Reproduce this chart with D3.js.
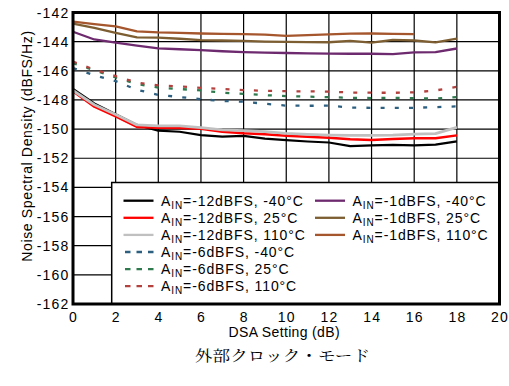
<!DOCTYPE html>
<html><head><meta charset="utf-8">
<script src="https://cdn.jsdelivr.net/npm/d3@7"></script>
<style>body{margin:0;background:#fff}svg{display:block}text{font-family:"Liberation Sans",Arial,sans-serif}</style>
</head><body><svg id="c" width="509" height="386"></svg>
<script>
const dsa = [0,1,2,3,4,5,6,7,8,9,10,11,12,13,14,15,16,17,18];
const xTicks = [0,2,4,6,8,10,12,14,16,18,20];
const yTicks = [-142,-144,-146,-148,-150,-152,-154,-156,-158,-160,-162];

const m12_m40 = [-147.25,-148.24,-148.98,-149.71,-150.11,-150.18,-150.41,-150.52,-150.47,-150.65,-150.75,-150.85,-150.92,-151.17,-151.12,-151.08,-151.12,-151.07,-150.84];
const m12_25  = [-147.40,-148.46,-149.12,-149.85,-149.90,-149.93,-149.97,-150.18,-150.29,-150.36,-150.46,-150.53,-150.60,-150.70,-150.75,-150.68,-150.63,-150.62,-150.43];
const m12_110 = [-147.35,-148.33,-149.00,-149.71,-149.78,-149.78,-149.90,-150.06,-150.11,-150.18,-150.29,-150.36,-150.41,-150.43,-150.43,-150.41,-150.34,-150.31,-149.88];
const m6_m40  = [-145.82,-146.31,-146.71,-147.30,-147.65,-147.80,-147.95,-148.07,-148.12,-148.26,-148.39,-148.40,-148.39,-148.52,-148.54,-148.54,-148.54,-148.49,-148.44];
const m6_25   = [-145.47,-145.96,-146.46,-146.91,-147.15,-147.25,-147.35,-147.50,-147.58,-147.67,-147.74,-147.77,-147.81,-147.85,-147.87,-147.85,-147.88,-147.91,-147.80];
const m6_110  = [-145.37,-145.92,-146.37,-146.81,-147.00,-147.07,-147.17,-147.25,-147.32,-147.37,-147.40,-147.41,-147.43,-147.49,-147.50,-147.51,-147.48,-147.35,-147.10];
const m1_m40  = [-143.32,-143.85,-144.07,-144.28,-144.46,-144.52,-144.58,-144.66,-144.72,-144.75,-144.78,-144.80,-144.82,-144.83,-144.83,-144.86,-144.73,-144.72,-144.47];
const m1_25   = [-142.77,-143.05,-143.40,-143.70,-143.72,-143.80,-143.90,-143.92,-143.95,-144.00,-144.02,-144.03,-144.04,-143.95,-144.06,-143.88,-143.92,-144.05,-143.80];
const m1_110  = [-142.63,-142.80,-142.95,-143.30,-143.37,-143.40,-143.44,-143.47,-143.49,-143.52,-143.60,-143.55,-143.50,-143.45,-143.44,-143.46,-143.49];

const series = [
  {ain:"-12dBFS", t:"-40°C", v:m12_m40, c:"#000000", w:2.2, d:null, col:0},
  {ain:"-12dBFS", t:"25°C", v:m12_25, c:"#ff0000", w:2.5, d:null, col:0},
  {ain:"-12dBFS", t:"110°C", v:m12_110, c:"#c0c0c0", w:2.8, d:null, col:0},
  {ain:"-6dBFS", t:"-40°C", v:m6_m40, c:"#2d6080", w:2.3, d:"4,10.2", col:0},
  {ain:"-6dBFS", t:"25°C", v:m6_25, c:"#2e7a4e", w:2.3, d:"4,10.2", col:0},
  {ain:"-6dBFS", t:"110°C", v:m6_110, c:"#b3423f", w:2.3, d:"4,10.2", col:0},
  {ain:"-1dBFS", t:"-40°C", v:m1_m40, c:"#6e2a6e", w:2.3, d:null, col:1},
  {ain:"-1dBFS", t:"25°C", v:m1_25, c:"#7d5e32", w:2.3, d:null, col:1},
  {ain:"-1dBFS", t:"110°C", v:m1_110, c:"#a5562c", w:2.3, d:null, col:1}
];

const L=73, R=499.5, T=12.5, B=304;
const FS = 14;
const x = d3.scaleLinear().domain([0,20]).range([L,R]);
const y = d3.scaleLinear().domain([-142,-162]).range([T,B]);
const svg = d3.select("#c");

// grid
svg.append("g").selectAll("line").data(xTicks.slice(1,-1)).join("line")
  .attr("x1",d=>x(d)).attr("x2",d=>x(d)).attr("y1",T).attr("y2",B)
  .attr("stroke","#000").attr("stroke-width",1.2);
svg.append("g").selectAll("line").data(yTicks.slice(1,-1)).join("line")
  .attr("y1",d=>y(d)).attr("y2",d=>y(d)).attr("x1",L).attr("x2",R)
  .attr("stroke","#000").attr("stroke-width",1.2);

// lines
const line = d3.line().x((d,i)=>x(dsa[i])).y(d=>y(d));
svg.append("g").selectAll("path").data(series).join("path")
  .attr("d",s=>line(s.v)).attr("fill","none")
  .attr("stroke",s=>s.c).attr("stroke-width",s=>s.w)
  .attr("stroke-dasharray",s=>s.d).attr("stroke-linejoin","round");

// legend
const lg = svg.append("g");
lg.append("rect").attr("x",111.7).attr("y",182.5).attr("width",R-111.7).attr("height",B-182.5)
  .attr("fill","#fff").attr("stroke","#000").attr("stroke-width",1.5);
const colX = [[123.5,153.5,161],[315,345,352.5]];
const counts=[0,0];
series.forEach(s=>{
  const r = counts[s.col]++;
  const ly = 200.7 + r*17.1;
  const cx = colX[s.col];
  lg.append("line").attr("x1",cx[0]).attr("x2",cx[1]).attr("y1",ly).attr("y2",ly)
    .attr("stroke",s.c).attr("stroke-width",2.3)
    .attr("stroke-dasharray",s.d? "5.5,6":null).attr("stroke-dashoffset",s.d?-1.5:null);
  const t = lg.append("text").attr("x",cx[2]).attr("y",ly+5)
    .attr("font-size",FS).attr("letter-spacing",0.9).attr("fill","#000");
  t.append("tspan").text("A");
  t.append("tspan").attr("font-size",10).attr("dy",3).text("IN");
  t.append("tspan").attr("dy",-3).text("=" + s.ain + ", " + s.t);
});

// border
svg.append("rect").attr("x",L).attr("y",T).attr("width",R-L).attr("height",B-T)
  .attr("fill","none").attr("stroke","#000").attr("stroke-width",3);

// tick labels
svg.append("g").selectAll("text").data(yTicks).join("text")
  .attr("x",69.5).attr("y",d=>y(d)+5)
  .attr("text-anchor","end").attr("font-size",FS).attr("letter-spacing",1.2).text(d=>d);
svg.append("g").selectAll("text").data(xTicks).join("text")
  .attr("x",d=>x(d)+0.6).attr("y",321.5)
  .attr("text-anchor","middle").attr("font-size",FS).attr("letter-spacing",1.2).text(d=>d);

svg.append("text").attr("x",(L+R)/2-2).attr("y",336.5)
  .attr("text-anchor","middle").attr("font-size",FS).attr("letter-spacing",0.35).text("DSA Setting (dB)");
svg.append("text").attr("transform","translate(32,146) rotate(-90)").attr("text-anchor","middle")
  .attr("font-size",FS).attr("letter-spacing",0.65).text("Noise Spectral Density (dBFS/Hz)");
svg.append("text").attr("x",282.5).attr("y",360.5).attr("text-anchor","middle").attr("font-size",15)
  .attr("textLength",175).attr("lengthAdjust","spacingAndGlyphs")
  .style("font-family","'Noto Serif CJK JP','Noto Sans CJK JP',serif").text("外部クロック・モード");
</script></body></html>
